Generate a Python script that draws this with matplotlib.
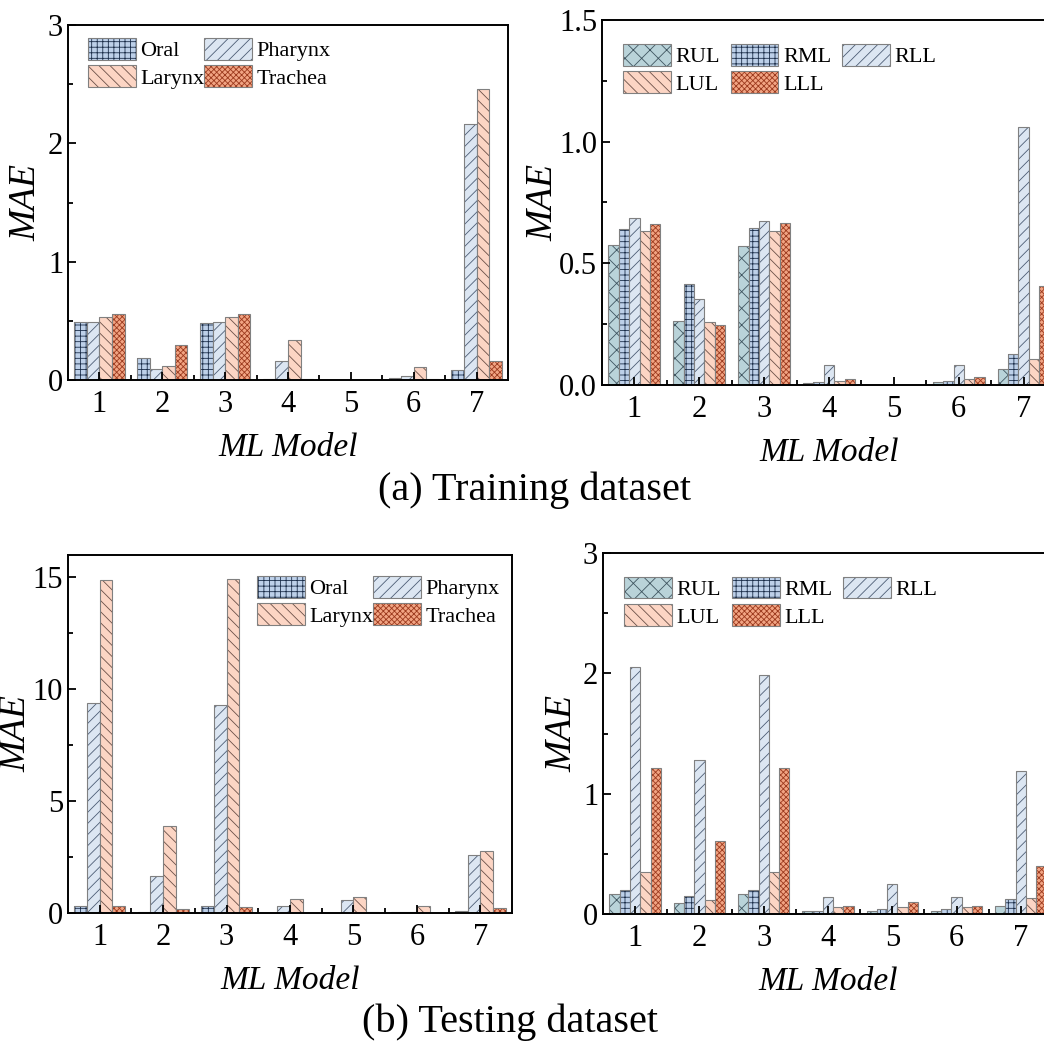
import matplotlib
matplotlib.use("Agg")
import matplotlib.pyplot as plt
import numpy as np
from matplotlib.patches import Patch
from matplotlib.legend_handler import HandlerTuple
from matplotlib.ticker import MultipleLocator, FixedLocator

plt.rcParams["font.family"] = ["Liberation Serif", "DejaVu Serif"]
plt.rcParams["hatch.linewidth"] = 0.6

models = [1, 2, 3, 4, 5, 6, 7]
airway_labels = ["Oral", "Pharynx", "Larynx", "Trachea"]
lobe_labels = ["RUL", "RML", "RLL", "LUL", "LLL"]

# (a) training, airway
train_oral = [0.49, 0.19, 0.48, 0.005, 0.002, 0.02, 0.085]
train_pharynx = [0.49, 0.09, 0.49, 0.16, 0.002, 0.035, 2.16]
train_larynx = [0.53, 0.12, 0.53, 0.335, 0.002, 0.11, 2.46]
train_trachea = [0.56, 0.30, 0.56, 0.005, 0.002, 0.01, 0.16]

# (a) training, lobes
train_rul = [0.575, 0.263, 0.571, 0.010, 0.002, 0.011, 0.066]
train_rml = [0.642, 0.416, 0.645, 0.012, 0.002, 0.015, 0.126]
train_rll = [0.686, 0.353, 0.674, 0.081, 0.002, 0.081, 1.06]
train_lul = [0.633, 0.260, 0.633, 0.016, 0.002, 0.025, 0.107]
train_lll = [0.662, 0.247, 0.664, 0.026, 0.002, 0.034, 0.405]

# (b) testing, airway
test_oral = [0.33, 0.04, 0.30, 0.01, 0.01, 0.04, 0.09]
test_pharynx = [9.39, 1.64, 9.30, 0.30, 0.60, 0.03, 2.59]
test_larynx = [14.9, 3.87, 14.93, 0.64, 0.70, 0.30, 2.76]
test_trachea = [0.30, 0.18, 0.28, 0.01, 0.04, 0.01, 0.21]

# (b) testing, lobes
test_rul = [0.17, 0.09, 0.17, 0.022, 0.028, 0.022, 0.066]
test_rml = [0.20, 0.15, 0.20, 0.022, 0.044, 0.039, 0.127]
test_rll = [2.05, 1.28, 1.99, 0.14, 0.25, 0.144, 1.19]
test_lul = [0.35, 0.12, 0.345, 0.055, 0.06, 0.06, 0.13]
test_lll = [1.215, 0.61, 1.215, 0.066, 0.10, 0.069, 0.40]

EDGE = "#808080"
styles = {
    "Oral": ("#bdd0e9", "+++", "#1c2e4a"),
    "RML": ("#bdd0e9", "+++", "#1c2e4a"),
    "Pharynx": ("#dce6f2", "///", "#4d5d75"),
    "RLL": ("#dce6f2", "///", "#4d5d75"),
    "Larynx": ("#fcd5c4", "\\\\\\", "#6b5048"),
    "LUL": ("#fcd5c4", "\\\\\\", "#6b5048"),
    "Trachea": ("#f2a483", "xxxxxx", "#9c3a1e"),
    "LLL": ("#f2a483", "xxxxxx", "#9c3a1e"),
    "RUL": ("#b9d3d9", "xx", "#3f5560"),
}

W, H = 1044, 1042


def draw_panel(ax, series, labels, width, ylim, ymajor, yminor, yfmt, legend_order,
               ncol, anchor, colsp, ylabel_x):
    n = len(series)
    x0 = np.array(models, dtype=float)
    for i, (vals, lab) in enumerate(zip(series, labels)):
        fc, h, hc = styles[lab]
        x = x0 + (i - (n - 1) / 2) * width
        ax.bar(x, vals, width, color=fc, edgecolor=hc, hatch=h, linewidth=0)
        ax.bar(x, vals, width, fill=False, edgecolor=EDGE, linewidth=0.8)

    handles = []
    for lab in legend_order:
        fc, h, hc = styles[lab]
        handles.append((Patch(facecolor=fc, edgecolor=hc, hatch=h, linewidth=0),
                        Patch(fill=False, edgecolor=EDGE, linewidth=0.8)))
    ax.legend(handles, legend_order, handler_map={tuple: HandlerTuple(ndivide=1, pad=0)},
              loc="upper left", bbox_to_anchor=anchor, ncol=ncol, frameon=False,
              fontsize=16, handlelength=2.15, handleheight=1.12, handletextpad=0.2,
              labelspacing=0.18, columnspacing=colsp, borderpad=0, borderaxespad=0)

    ax.set_xlim(0.5, 7.5)
    ax.set_ylim(*ylim)
    ax.set_xticks(models)
    ax.xaxis.set_minor_locator(FixedLocator([1.5, 2.5, 3.5, 4.5, 5.5, 6.5]))
    ax.yaxis.set_major_locator(MultipleLocator(ymajor))
    ax.yaxis.set_minor_locator(MultipleLocator(yminor))
    ax.yaxis.set_major_formatter(yfmt)
    ax.tick_params(which="both", direction="in", top=False, right=False, labelsize=22,
                   width=1.3)
    ax.tick_params(which="major", length=6)
    ax.tick_params(which="minor", length=3.5)
    ax.tick_params(axis="x", pad=7)
    for sp in ax.spines.values():
        sp.set_linewidth(1.4)
    ax.set_ylabel("MAE", fontsize=27, style="italic")
    # place label centre at a given pixel column
    axw = ax.get_position().width * W
    axl = ax.get_position().x0 * W
    ax.yaxis.set_label_coords((ylabel_x - axl) / axw, 0.5)
    ax.yaxis.label.set_verticalalignment("center")
    ax.set_xlabel("ML Model", fontsize=24, style="italic", labelpad=10)


fig = plt.figure(figsize=(W / 100, H / 100), dpi=100)


def add_axes(left, top, right, bottom):
    return fig.add_axes([left / W, 1 - bottom / H, (right - left) / W, (bottom - top) / H])


ax1 = add_axes(68, 25, 508, 380)
ax2 = add_axes(602, 20, 1056, 385)
ax3 = add_axes(68, 555, 512, 913)
ax4 = add_axes(603, 553, 1053, 914)

int_fmt = "{x:.0f}"
dec_fmt = "{x:.1f}"

draw_panel(ax1, [train_oral, train_pharynx, train_larynx, train_trachea], airway_labels,
           0.2, (0, 3), 1, 0.5, int_fmt, ["Oral", "Larynx", "Pharynx", "Trachea"],
           2, (0.045, 0.963), 0.0, 26)
draw_panel(ax2, [train_rul, train_rml, train_rll, train_lul, train_lll], lobe_labels,
           0.16, (0, 1.5), 0.5, 0.25, dec_fmt, ["RUL", "LUL", "RML", "LLL", "RLL"],
           3, (0.046, 0.934), 0.5, 543)
draw_panel(ax3, [test_oral, test_pharynx, test_larynx, test_trachea], airway_labels,
           0.2, (0, 16), 5, 2.5, int_fmt, ["Oral", "Larynx", "Pharynx", "Trachea"],
           2, (0.426, 0.941), 0.0, 16)
draw_panel(ax4, [test_rul, test_rml, test_rll, test_lul, test_lll], lobe_labels,
           0.16, (0, 3), 1, 0.5, int_fmt, ["RUL", "LUL", "RML", "LLL", "RLL"],
           3, (0.047, 0.934), 0.5, 562)

fig.text(535 / W, 1 - 490 / H, "(a) Training dataset", fontsize=29, ha="center", va="center")
fig.text(510 / W, 1 - 1022 / H, "(b) Testing dataset", fontsize=29, ha="center", va="center")

fig.savefig("out.png", dpi=100)
